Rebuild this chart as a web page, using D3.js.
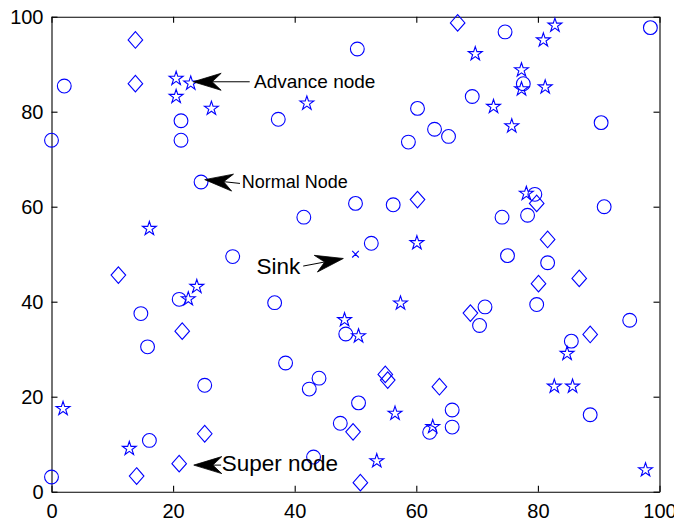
<!DOCTYPE html>
<html>
<head>
<meta charset="utf-8">
<script src="https://cdn.jsdelivr.net/npm/d3@7"></script>
<style>
  html, body { margin: 0; padding: 0; background: #fff; }
  svg { display: block; font-family: "Liberation Sans", Arial, Helvetica, sans-serif; }
</style>
</head>
<body>
<svg id="chart" width="674" height="522"></svg>
<script>
// ---- data (x, y in field units) ----
const normalNodes = [
  [2.1,85.4],[0,74],[21.3,78.1],[21.3,74],[24.6,65.2],[37.3,78.4],[41.5,57.8],[29.8,49.5],
  [50.3,93.2],[74.6,96.8],[98.5,97.7],[77.6,85.9],[69.2,83.2],[60.2,80.7],[63,76.3],[65.3,74.8],
  [58.7,73.6],[90.4,77.7],[50,60.7],[56.2,60.4],[79.5,62.6],[78.3,58.2],[74.1,57.8],[90.9,60],
  [52.6,52.3],[75,49.7],[81.6,48.2],[79.8,39.4],[71.3,38.9],[70.4,35],[95.1,36.1],[85.5,31.7],
  [48.4,33.2],[50.5,18.7],[47.5,14.4],[65.9,17.2],[65.9,13.6],[62.2,12.5],[88.6,16.2],
  [21,40.5],[14.7,37.5],[15.8,30.5],[36.7,39.8],[38.5,27.1],[44,23.9],[42.4,21.6],[25.2,22.4],
  [16.1,10.8],[0,3.1],[43.1,7.3]
];
const advanceNodes = [
  [20.5,87.1],[22.9,86.1],[20.5,83.3],[26.3,80.8],[42,81.9],[16.1,55.5],
  [82.8,98.3],[80.9,95.2],[69.7,92.3],[77.3,88.9],[77.3,84.9],[81.2,85.3],[72.7,81.2],[75.7,77.1],
  [78.1,62.9],[60.1,52.5],[1.9,17.6],[12.8,9.2],[23.9,43.3],[22.5,40.7],
  [57.4,39.8],[48.2,36.3],[50.5,32.9],[84.8,29.2],[82.7,22.3],[85.7,22.3],[56.5,16.6],
  [62.7,13.8],[53.5,6.6],[97.7,4.7]
];
const superNodes = [
  [13.8,95.1],[13.8,85.9],[66.8,98.7],[60.2,61.5],[79.8,60.7],[81.6,53.1],[80.1,43.8],[86.8,44.9],
  [68.9,37.6],[88.6,33.1],[54.9,24.7],[55.3,23.5],[63.8,22.1],[49.6,12.6],[50.8,1.9],
  [11,45.6],[21.5,33.8],[25.2,12.2],[21,5.9],[14,3.3]
];
const sinkNode = [[50,50]];

const xTicks = [0,20,40,60,80,100];
const yTicks = [0,20,40,60,80,100];

// annotations: label, text anchor point, arrow tail, arrow tip (field units)
const annotationLabels = ["Advance node", "Normal Node", "Sink", "Super node"];
const annotationText   = [[33.3,86.3],[31.3,65.3],[40.9,47.4],[28.0,6.1]];
const annotationAnchor = ["start","start","end","start"];
const annotationSize   = [19, 18, 22.5, 22.5];
const annotationTail   = [[32.6,86.3],[31.0,64.9],[41.4,47.5],[27.9,5.6]];
const annotationTip    = [[23.3,86.3],[25.2,65.7],[48.0,49.1],[23.4,5.6]];

// ---- layout ----
const svg = d3.select("#chart");
const x = d3.scaleLinear().domain([0,100]).range([51.5, 659.5]);
const y = d3.scaleLinear().domain([0,100]).range([491.7, 16.7]);
const [x0, x1] = x.range();
const [y0, y1] = y.range();
const blue = "#0000ff";

// axes (inward ticks)
const fmt = d3.format("d");
svg.append("g").attr("transform", `translate(0,${y0})`)
  .call(d3.axisBottom(x).tickValues(xTicks).tickFormat(fmt).tickSizeInner(-6).tickSizeOuter(0).tickPadding(12))
  .call(g => g.selectAll("text").attr("font-size", 20).attr("fill", "#000").attr("font-family", "Liberation Sans, Arial, sans-serif"));
svg.append("g").attr("transform", `translate(${x0},0)`)
  .call(d3.axisLeft(y).tickValues(yTicks).tickFormat(fmt).tickSizeInner(-6).tickSizeOuter(0).tickPadding(8))
  .call(g => g.selectAll("text").attr("font-size", 20).attr("fill", "#000").attr("font-family", "Liberation Sans, Arial, sans-serif"));
svg.append("g").attr("transform", `translate(0,${y1})`)
  .call(d3.axisTop(x).tickValues(xTicks).tickFormat("").tickSizeInner(-6).tickSizeOuter(0));
svg.append("g").attr("transform", `translate(${x1},0)`)
  .call(d3.axisRight(y).tickValues(yTicks).tickFormat("").tickSizeInner(-6).tickSizeOuter(0));
svg.selectAll(".domain, .tick line").attr("stroke", "#000").attr("stroke-width", 1.1);

// ---- markers ----
const gMarks = svg.append("g").attr("fill", "none").attr("stroke", blue).attr("stroke-width", 1.1);

gMarks.selectAll("circle.normal").data(normalNodes).join("circle")
  .attr("class", "normal")
  .attr("cx", d => x(d[0])).attr("cy", d => y(d[1])).attr("r", 6.9);

function starPath(R) {
  const r = R * 0.382;
  const pts = [];
  for (let i = 0; i < 10; i++) {
    const a = -Math.PI / 2 + i * Math.PI / 5;
    const rr = i % 2 === 0 ? R : r;
    pts.push([rr * Math.cos(a), rr * Math.sin(a)]);
  }
  return "M" + pts.map(p => p[0].toFixed(2) + "," + p[1].toFixed(2)).join("L") + "Z";
}
const star = starPath(7.3);
gMarks.selectAll("path.advance").data(advanceNodes).join("path")
  .attr("class", "advance")
  .attr("d", star)
  .attr("transform", d => `translate(${x(d[0])},${y(d[1]) + 0.6})`);

const diamond = "M0,-8.3L7.3,0L0,8.3L-7.3,0Z";
gMarks.selectAll("path.super").data(superNodes).join("path")
  .attr("class", "super")
  .attr("d", diamond)
  .attr("transform", d => `translate(${x(d[0])},${y(d[1])})`);

gMarks.selectAll("path.sink").data(sinkNode).join("path")
  .attr("class", "sink")
  .attr("d", "M-3.3,-3.3L3.3,3.3M-3.3,3.3L3.3,-3.3")
  .attr("transform", d => `translate(${x(d[0])},${y(d[1])})`);

// ---- annotations ----
const gAnn = svg.append("g");
annotationLabels.forEach((label, i) => {
  const tx = x(annotationTail[i][0]), ty = y(annotationTail[i][1]);
  const px = x(annotationTip[i][0]),  py = y(annotationTip[i][1]);
  const ang = Math.atan2(py - ty, px - tx);
  const L = 28, W = 17, N = 19;
  const rot = (a, b) => [px + a * Math.cos(ang) - b * Math.sin(ang), py + a * Math.sin(ang) + b * Math.cos(ang)];
  const notch = rot(-N, 0);
  gAnn.append("line")
    .attr("x1", tx).attr("y1", ty).attr("x2", notch[0]).attr("y2", notch[1])
    .attr("stroke", "#000").attr("stroke-width", 1);
  const head = [rot(0,0), rot(-L, -W/2), notch, rot(-L, W/2)];
  gAnn.append("path")
    .attr("d", "M" + head.map(p => p[0].toFixed(2) + "," + p[1].toFixed(2)).join("L") + "Z")
    .attr("fill", "#000").attr("stroke", "#000").attr("stroke-width", 0.8);
  gAnn.append("text")
    .attr("x", x(annotationText[i][0])).attr("y", y(annotationText[i][1]))
    .attr("dy", "0.35em")
    .attr("text-anchor", annotationAnchor[i])
    .attr("font-size", annotationSize[i]).attr("fill", "#000")
    .text(label);
});
</script>
</body>
</html>
